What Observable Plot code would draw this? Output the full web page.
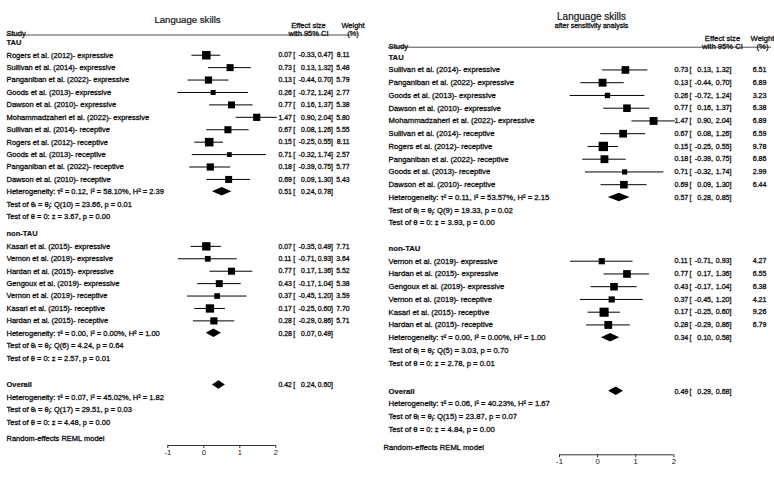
<!DOCTYPE html>
<html>
<head>
<meta charset="utf-8">
<script src="https://cdn.jsdelivr.net/npm/d3@7"></script>
<script src="https://cdn.jsdelivr.net/npm/@observablehq/plot@0.6"></script>
<style>
  body { margin: 0; background: #fff; }
  #wrap { display: flex; width: 774px; height: 482px; overflow: hidden; }
  #wrap svg { display: block; }
</style>
</head>
<body>
<div id="wrap"></div>
<script>
// ---------- Panel A: all studies ----------
const aTauLabels = [
  "Rogers et al. (2012)- expressive",
  "Sullivan et al. (2014)- expressive",
  "Panganiban et al. (2022)- expressive",
  "Goods et al. (2013)- expressive",
  "Dawson et al. (2010)- expressive",
  "Mohammadzaheri et al. (2022)- expressive",
  "Sullivan et al. (2014)- receptive",
  "Rogers et al. (2012)- receptive",
  "Goods et al. (2013)- receptive",
  "Panganiban et al. (2022)- receptive",
  "Dawson et al. (2010)- receptive"
];
const aTauEst = [0.07, 0.73, 0.13, 0.26, 0.77, 1.47, 0.67, 0.15, 0.71, 0.18, 0.69];
const aTauLo  = [-0.33, 0.13, -0.44, -0.72, 0.16, 0.90, 0.08, -0.25, -0.32, -0.39, 0.09];
const aTauHi  = [0.47, 1.32, 0.70, 1.24, 1.37, 2.04, 1.26, 0.55, 1.74, 0.75, 1.30];
const aTauWeight = [8.11, 5.48, 5.79, 2.77, 5.38, 5.80, 5.55, 8.11, 2.57, 5.77, 5.43];

const aNonLabels = [
  "Kasari et al. (2015)- expressive",
  "Vernon et al. (2019)- expressive",
  "Hardan et al. (2015)- expressive",
  "Gengoux et al. (2019)- expressive",
  "Vernon et al. (2019)- receptive",
  "Kasari et al. (2015)- receptive",
  "Hardan et al. (2015)- receptive"
];
const aNonEst = [0.07, 0.11, 0.77, 0.43, 0.37, 0.17, 0.28];
const aNonLo  = [-0.35, -0.71, 0.17, -0.17, -0.45, -0.25, -0.29];
const aNonHi  = [0.49, 0.93, 1.36, 1.04, 1.20, 0.60, 0.86];
const aNonWeight = [7.71, 3.64, 5.52, 5.38, 3.59, 7.70, 5.71];

// pooled rows: [estimate, lower, upper]
const aTauPooled = [0.51, 0.24, 0.78];
const aNonPooled = [0.28, 0.07, 0.49];
const aOverall   = [0.42, 0.24, 0.60];
// heterogeneity: [tau2, I2, H2, Q df, Q, Q p, z, z p]
const aTauStats = [0.12, 58.10, 2.39, 10, 23.66, 0.01, 3.67, 0.00];
const aNonStats = [0.00, 0.00, 1.00, 6, 4.24, 0.64, 2.57, 0.01];
const aAllStats = [0.07, 45.02, 1.82, 17, 29.51, 0.03, 4.48, 0.00];

// ---------- Panel B: after sensitivity analysis ----------
const bTauLabels = [
  "Sullivan et al. (2014)- expressive",
  "Panganiban et al. (2022)- expressive",
  "Goods et al. (2013)- expressive",
  "Dawson et al. (2010)- expressive",
  "Mohammadzaheri et al. (2022)- expressive",
  "Sullivan et al. (2014)- receptive",
  "Rogers et al. (2012)- receptive",
  "Panganiban et al. (2022)- receptive",
  "Goods et al. (2013)- receptive",
  "Dawson et al. (2010)- receptive"
];
const bTauEst = [0.73, 0.13, 0.26, 0.77, 1.47, 0.67, 0.15, 0.18, 0.71, 0.69];
const bTauLo  = [0.13, -0.44, -0.72, 0.16, 0.90, 0.08, -0.25, -0.39, -0.32, 0.09];
const bTauHi  = [1.32, 0.70, 1.24, 1.37, 2.04, 1.26, 0.55, 0.75, 1.74, 1.30];
const bTauWeight = [6.51, 6.89, 3.23, 6.38, 6.89, 6.59, 9.78, 6.86, 2.99, 6.44];

const bNonLabels = [
  "Vernon et al. (2019)- expressive",
  "Hardan et al. (2015)- expressive",
  "Gengoux et al. (2019)- expressive",
  "Vernon et al. (2019)- receptive",
  "Kasari et al. (2015)- receptive",
  "Hardan et al. (2015)- receptive"
];
const bNonEst = [0.11, 0.77, 0.43, 0.37, 0.17, 0.28];
const bNonLo  = [-0.71, 0.17, -0.17, -0.45, -0.25, -0.29];
const bNonHi  = [0.93, 1.36, 1.04, 1.20, 0.60, 0.86];
const bNonWeight = [4.27, 6.55, 6.38, 4.21, 9.26, 6.79];

const bTauPooled = [0.57, 0.28, 0.85];
const bNonPooled = [0.34, 0.10, 0.58];
const bOverall   = [0.49, 0.29, 0.68];
const bTauStats = [0.11, 53.57, 2.15, 9, 19.33, 0.02, 3.93, 0.00];
const bNonStats = [0.00, 0.00, 1.00, 5, 3.03, 0.70, 2.78, 0.01];
const bAllStats = [0.06, 40.23, 1.67, 15, 23.87, 0.07, 4.84, 0.00];

const xTicks = [-1, 0, 1, 2];
const groupNames = ["TAU", "non-TAU"];

// ---------- helpers ----------
const FONT = "'Liberation Sans', Arial, Helvetica, sans-serif";
const num = v => (v < 0 ? "-" : "") + Math.abs(v).toFixed(2);
const hetText = s => `Heterogeneity: \u03c4\u00b2 = ${num(s[0])}, I\u00b2 = ${num(s[1])}%, H\u00b2 = ${num(s[2])}`;
const qText = s => `Test of \u03b8\u1d62 = \u03b8\u2c7c: Q(${s[3]}) = ${num(s[4])}, p = ${num(s[5])}`;
const zText = s => `Test of \u03b8 = 0: z = ${num(s[6])}, p = ${num(s[7])}`;

function forestPanel(cfg) {
  const L = cfg.layout;
  const labels = [], bold = [], studies = [], effects = [], diamonds = [];
  let r = 0;
  cfg.groups.forEach((g, gi) => {
    if (gi > 0) r += L.groupGap;
    bold.push({row: r, text: g.name});
    g.labels.forEach((lab, i) => {
      r += 1;
      labels.push({row: r, text: lab});
      const d = {row: r, est: g.est[i], lo: g.lo[i], hi: g.hi[i], w: g.w[i]};
      studies.push(d);
      effects.push(d);
    });
    r += 1;
    labels.push({row: r, text: hetText(g.stats)});
    effects.push({row: r, est: g.pooled[0], lo: g.pooled[1], hi: g.pooled[2]});
    diamonds.push({row: r, est: g.pooled[0], lo: g.pooled[1], hi: g.pooled[2]});
    r += 1; labels.push({row: r, text: qText(g.stats)});
    r += 1; labels.push({row: r, text: zText(g.stats)});
  });
  r += L.overallGap;
  bold.push({row: r, text: "Overall"});
  effects.push({row: r, est: cfg.overall[0], lo: cfg.overall[1], hi: cfg.overall[2]});
  diamonds.push({row: r, est: cfg.overall[0], lo: cfg.overall[1], hi: cfg.overall[2]});
  r += 1; labels.push({row: r, text: hetText(cfg.overallStats)});
  r += 1; labels.push({row: r, text: qText(cfg.overallStats)});
  r += 1; labels.push({row: r, text: zText(cfg.overallStats)});

  // each diamond as a three-step area: tip, widest point, tip
  const h = L.diamondHalf;
  const diamondPts = diamonds.flatMap((d, i) => [
    {id: i, y: d.row - h, x1: d.est, x2: d.est},
    {id: i, y: d.row, x1: d.lo, x2: d.hi},
    {id: i, y: d.row + h, x1: d.est, x2: d.est}
  ]);

  const axisPx = L.height - L.marginBottom;
  const axisRow = (axisPx - L.top) / L.step;
  const fs = L.fontSize, nfs = L.numSize;
  const ink = "#111";
  // a hairline outline in the text colour gives the slightly heavier print look
  const heavy = {stroke: ink, strokeWidth: 0.3};
  const left = {frameAnchor: "left", dx: L.labelX - L.marginLeft, textAnchor: "start", fontSize: fs, fill: ink, ...heavy};
  const right = dx => ({frameAnchor: "right", dx, fontSize: nfs, fill: ink, ...heavy});
  const top = (dy, extra) => ({frameAnchor: "top-left", dy, fontSize: fs, fill: ink, ...heavy, ...extra});

  return Plot.plot({
    width: L.width,
    height: L.height,
    marginLeft: L.marginLeft,
    marginRight: L.width - L.axisRight,
    marginTop: 0,
    marginBottom: L.marginBottom,
    style: {fontFamily: FONT, background: "#fff", overflow: "visible"},
    x: {domain: [-1, 2]},
    y: {type: "linear", domain: [0, 1], range: [L.top, L.top + L.step], axis: null},
    r: {type: "sqrt", domain: [0, 10], range: [0, L.rMax]},
    marks: [
      // titles and column headers
      Plot.text([cfg.title], top(L.titleY, {dx: L.titleX - L.marginLeft, textAnchor: "middle", fontSize: L.titleSize, strokeWidth: 0.2})),
      cfg.subtitle ? Plot.text([cfg.subtitle], top(L.subtitleY, {dx: L.titleX - L.marginLeft, textAnchor: "middle", fontSize: L.subtitleSize})) : null,
      Plot.text(["Study"], top(L.head2Y, {dx: L.labelX - L.marginLeft, textAnchor: "start"})),
      Plot.text(["Effect size"], top(L.head1Y, {dx: L.effHeadX - L.marginLeft, textAnchor: "middle"})),
      Plot.text(["with 95% CI"], top(L.head2Y, {dx: L.effHeadX - L.marginLeft, textAnchor: "middle"})),
      Plot.text(["Weight"], top(L.head1Y, {dx: L.wHeadX - L.marginLeft, textAnchor: "middle"})),
      Plot.text(["(%)"], top(L.head2Y, {dx: L.wHeadX - L.marginLeft, textAnchor: "middle"})),
      Plot.ruleY([(L.headLineY - L.top) / L.step], {
        stroke: "#222", strokeWidth: 0.8,
        insetLeft: L.labelX - L.marginLeft, insetRight: L.axisRight - L.headLineEnd
      }),

      // row labels
      Plot.text(bold, {y: "row", text: "text", ...left, fontWeight: "bold", strokeWidth: 0.2}),
      Plot.text(labels, {y: "row", text: "text", ...left}),

      // confidence intervals, weighted squares, pooled diamonds
      Plot.ruleY(studies, {y: "row", x1: "lo", x2: "hi", stroke: "#000", strokeWidth: 1}),
      Plot.dot(studies, {x: "est", y: "row", r: "w", symbol: "square", fill: "#000", stroke: null}),
      Plot.areaX(diamondPts, {y: "y", x1: "x1", x2: "x2", z: "id", fill: "#000", curve: "linear"}),

      // effect size column: estimate [ lower, upper ]
      Plot.text(effects, {y: "row", text: d => num(d.est), ...right(L.effX), textAnchor: "start"}),
      Plot.text(effects, {y: "row", text: () => "[", ...right(L.bracketX), textAnchor: "start"}),
      Plot.text(effects, {y: "row", text: d => num(d.lo) + ",", ...right(L.loX), textAnchor: "end"}),
      Plot.text(effects, {y: "row", text: d => num(d.hi) + "]", ...right(L.hiX), textAnchor: "end"}),
      Plot.text(studies, {y: "row", text: d => d.w.toFixed(2), ...right(L.wX), textAnchor: "end"}),

      // effect-size axis
      Plot.ruleY([axisRow], {stroke: "#333", strokeWidth: 1}),
      Plot.axisX(xTicks, {tickSize: 3, tickPadding: 1, tickFormat: d => String(d), fontSize: fs, fill: ink, stroke: "#333"}),

      Plot.text(["Random-effects REML model"], {frameAnchor: "bottom-left", dx: L.footX - L.marginLeft, dy: -(L.height - L.footY), textAnchor: "start", fontSize: fs, fill: ink, ...heavy})
    ].filter(Boolean)
  });
}

const panelA = forestPanel({
  title: "Language skills",
  groups: [
    {name: groupNames[0], labels: aTauLabels, est: aTauEst, lo: aTauLo, hi: aTauHi, w: aTauWeight, pooled: aTauPooled, stats: aTauStats},
    {name: groupNames[1], labels: aNonLabels, est: aNonEst, lo: aNonLo, hi: aNonHi, w: aNonWeight, pooled: aNonPooled, stats: aNonStats}
  ],
  overall: aOverall, overallStats: aAllStats,
  layout: {
    width: 385, height: 482, marginLeft: 167.3, axisRight: 275.3, marginBottom: 37,
    top: 42.3, step: 12.42, groupGap: 1.39, overallGap: 2.16, diamondHalf: 0.34,
    fontSize: 7.5, numSize: 6.9, rMax: 5.35,
    labelX: 6, titleX: 187, titleY: 16, titleSize: 9.6, head1Y: 22, head2Y: 30.5, headLineY: 34.5, headLineEnd: 352,
    effHeadX: 308, wHeadX: 352.5,
    effX: 2.7, bracketX: 17.5, loX: 40.6, hiX: 57.2, wX: 73.8,
    footX: 6, footY: 477
  }
});

const panelB = forestPanel({
  title: "Language skills",
  subtitle: "after sensitivity analysis",
  groups: [
    {name: groupNames[0], labels: bTauLabels, est: bTauEst, lo: bTauLo, hi: bTauHi, w: bTauWeight, pooled: bTauPooled, stats: bTauStats},
    {name: groupNames[1], labels: bNonLabels, est: bNonEst, lo: bNonLo, hi: bNonHi, w: bNonWeight, pooled: bNonPooled, stats: bNonStats}
  ],
  overall: bOverall, overallStats: bAllStats,
  layout: {
    width: 389, height: 482, marginLeft: 174, axisRight: 288.3, marginBottom: 27.7,
    top: 56.7, step: 12.75, groupGap: 2.0, overallGap: 2.2, diamondHalf: 0.33,
    fontSize: 7.7, numSize: 7.1, rMax: 5.35,
    labelX: 3, titleX: 206, titleY: 12, titleSize: 10, subtitleY: 22.5, subtitleSize: 7,
    head1Y: 35, head2Y: 43, headLineY: 46.7, headLineEnd: 386,
    effHeadX: 337, wHeadX: 377,
    effX: 0.7, bracketX: 15.7, loX: 39.2, hiX: 57.7, wX: 92.7,
    footX: -2, footY: 477
  }
});

const wrap = document.getElementById("wrap");
wrap.append(panelA, panelB);
</script>
</body>
</html>
